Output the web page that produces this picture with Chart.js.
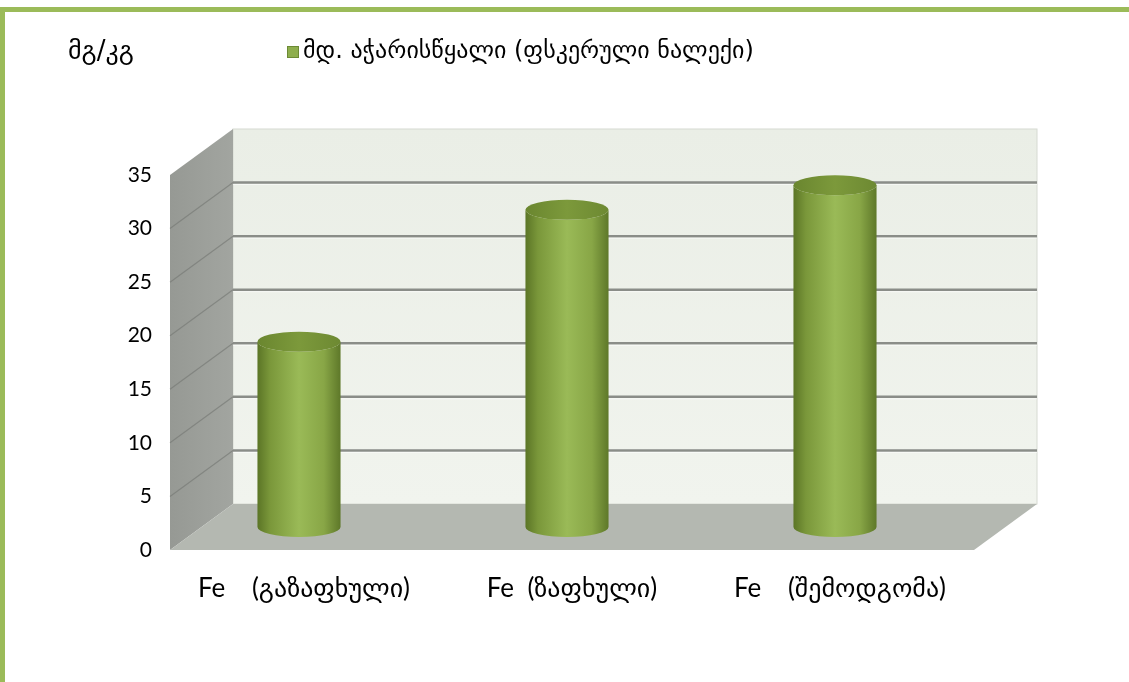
<!DOCTYPE html>
<html>
<head>
<meta charset="utf-8">
<script src="https://cdn.jsdelivr.net/npm/chart.js@4/dist/chart.umd.min.js"></script>
<style>
  html, body { margin: 0; padding: 0; background: #fff; }
  .frame {
    position: absolute; left: 0; top: 7px; width: 1124px; height: 675px;
    border-top: 5px solid #9bbb59; border-left: 5px solid #9bbb59;
  }
  #wrap { position: absolute; left: 0; top: 0; width: 1129px; height: 682px; }
</style>
</head>
<body>
<div class="frame"></div>
<div id="wrap"><canvas id="chart"></canvas></div>
<script>
const categories = ['Fe    (გაზაფხული)', 'Fe  (ზაფხული)', 'Fe    (შემოდგომა)'];
const values = [17.3, 29.6, 31.9];
const yTicks = [0, 5, 10, 15, 20, 25, 30, 35];
const seriesLabel = 'მდ. აჭარისწყალი (ფსკერული ნალექი)';
const unitLabel = 'მგ/კგ';

const FONT = "Lato, 'DejaVu Sans', sans-serif";
const GEO_FONT = "'DejaVu Sans', sans-serif";
const depth = { dx: 63, dy: -46 };   // offset of the back wall from the front plane

// walls, floor and back-wall gridlines of the 3D box
const box3d = {
  id: 'box3d',
  beforeDatasetsDraw(chart) {
    const { ctx, chartArea: a, scales: { y } } = chart;
    const dx = depth.dx, dy = depth.dy;
    ctx.save();

    // back wall
    let g = ctx.createLinearGradient(0, a.top + dy, 0, a.bottom + dy);
    g.addColorStop(0, '#eaeee6');
    g.addColorStop(1, '#f1f4ee');
    ctx.fillStyle = g;
    ctx.fillRect(a.left + dx, a.top + dy, a.right - a.left, a.bottom - a.top);
    ctx.strokeStyle = '#d6dad2';
    ctx.lineWidth = 1;
    ctx.strokeRect(a.left + dx, a.top + dy, a.right - a.left, a.bottom - a.top);

    // side wall
    g = ctx.createLinearGradient(a.left, 0, a.left + dx, 0);
    g.addColorStop(0, '#969994');
    g.addColorStop(1, '#a2a5a0');
    ctx.fillStyle = g;
    ctx.beginPath();
    ctx.moveTo(a.left, a.bottom);
    ctx.lineTo(a.left, a.top);
    ctx.lineTo(a.left + dx, a.top + dy);
    ctx.lineTo(a.left + dx, a.bottom + dy);
    ctx.closePath();
    ctx.fill();

    // floor
    ctx.fillStyle = '#b4b8b1';
    ctx.beginPath();
    ctx.moveTo(a.left, a.bottom);
    ctx.lineTo(a.right, a.bottom);
    ctx.lineTo(a.right + dx, a.bottom + dy);
    ctx.lineTo(a.left + dx, a.bottom + dy);
    ctx.closePath();
    ctx.fill();

    // gridlines on back and side walls
    yTicks.forEach(v => {
      if (v === 0 || v === 35) return;
      const py = y.getPixelForValue(v);
      ctx.strokeStyle = '#8a8d88';
      ctx.lineWidth = 2.5;
      ctx.beginPath();
      ctx.moveTo(a.left + dx, py + dy);
      ctx.lineTo(a.right + dx, py + dy);
      ctx.stroke();
      ctx.strokeStyle = 'rgba(255,255,255,0.6)';
      ctx.lineWidth = 1;
      ctx.beginPath();
      ctx.moveTo(a.left + dx, py + dy + 2);
      ctx.lineTo(a.right + dx, py + dy + 2);
      ctx.stroke();
      ctx.strokeStyle = 'rgba(120,123,118,0.7)';
      ctx.lineWidth = 1.2;
      ctx.beginPath();
      ctx.moveTo(a.left, py);
      ctx.lineTo(a.left + dx, py + dy);
      ctx.stroke();
    });
    ctx.restore();
  },

  // each bar is drawn as a cylinder standing in the middle of the floor
  afterDatasetsDraw(chart) {
    const { ctx } = chart;
    const meta = chart.getDatasetMeta(0);
    const shift = depth.dy / 2;
    ctx.save();
    meta.data.forEach(bar => {
      const cx = bar.x - 5, rx = bar.width / 2, ry = 10;
      const yTop = bar.y + shift, yBot = bar.base + shift;

      let g = ctx.createLinearGradient(cx - rx, 0, cx + rx, 0);
      g.addColorStop(0, '#5b7526');
      g.addColorStop(0.15, '#7a973a');
      g.addColorStop(0.5, '#9aba57');
      g.addColorStop(0.8, '#88a646');
      g.addColorStop(1, '#5e7829');
      ctx.fillStyle = g;
      ctx.beginPath();
      ctx.moveTo(cx - rx, yTop);
      ctx.lineTo(cx - rx, yBot);
      ctx.ellipse(cx, yBot, rx, ry, 0, Math.PI, 0, true);
      ctx.lineTo(cx + rx, yTop);
      ctx.ellipse(cx, yTop, rx, ry, 0, 0, Math.PI, false);
      ctx.closePath();
      ctx.fill();

      g = ctx.createLinearGradient(cx - rx, 0, cx + rx, 0);
      g.addColorStop(0, '#6a862f');
      g.addColorStop(0.5, '#7c993b');
      g.addColorStop(1, '#6d8932');
      ctx.fillStyle = g;
      ctx.beginPath();
      ctx.ellipse(cx, yTop, rx, ry, 0, 0, Math.PI * 2);
      ctx.fill();
    });
    ctx.restore();
  },

  // unit label and legend line on top
  afterDraw(chart) {
    const { ctx } = chart;
    ctx.save();
    ctx.fillStyle = '#000';
    ctx.textBaseline = 'middle';
    ctx.font = '26px ' + GEO_FONT;
    ctx.fillText(unitLabel, 68, 52);
    ctx.fillStyle = '#8eae4d';
    ctx.fillRect(287, 46, 12, 12);
    ctx.strokeStyle = '#6c8a34';
    ctx.lineWidth = 1;
    ctx.strokeRect(287.5, 46.5, 11, 11);
    ctx.fillStyle = '#000';
    ctx.font = '24px ' + GEO_FONT;
    ctx.fillText(chart.data.datasets[0].label, 303, 52);
    ctx.restore();
  }
};

const ctx = document.getElementById('chart').getContext('2d');
new Chart(ctx, {
  type: 'bar',
  data: {
    labels: categories,
    datasets: [{
      label: seriesLabel,
      data: values,
      backgroundColor: 'rgba(0,0,0,0)',
      borderWidth: 0,
      categoryPercentage: 1,
      barPercentage: 0.31
    }]
  },
  options: {
    responsive: true,
    maintainAspectRatio: false,
    animation: false,
    layout: { padding: { top: 175, right: 155, left: 0, bottom: 0 } },
    plugins: {
      legend: { display: false },
      tooltip: { enabled: false }
    },
    scales: {
      x: {
        grid: { display: false, drawTicks: false },
        border: { display: false },
        ticks: { color: '#000', font: { size: 26, family: FONT }, padding: 23, maxRotation: 0 },
        afterFit: s => { s.height = 132; }
      },
      y: {
        min: 0,
        max: 35,
        grid: { display: false, drawTicks: false },
        border: { display: false },
        afterBuildTicks: s => { s.ticks = yTicks.map(v => ({ value: v })); },
        ticks: { color: '#000', font: { size: 21, family: FONT }, padding: 18 },
        afterFit: s => { s.width = 170; }
      }
    }
  },
  plugins: [box3d]
});
</script>
</body>
</html>
